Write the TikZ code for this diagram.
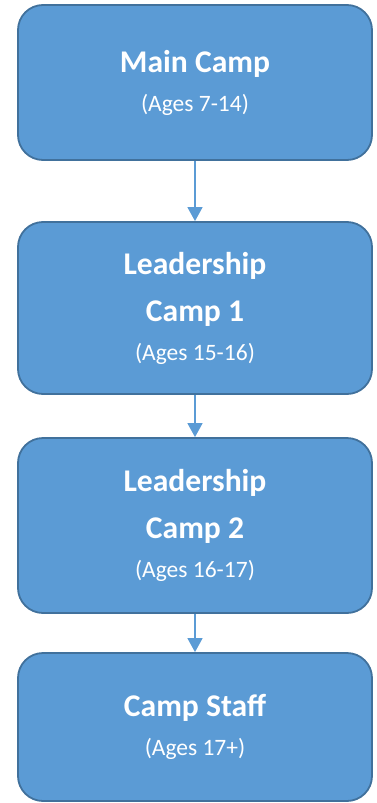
\documentclass[tikz,border=0pt]{standalone}
\usepackage{fontspec}
\setmainfont{Carlito}
\usepackage{tikz}
\usetikzlibrary{arrows.meta}

\definecolor{campfill}{HTML}{5B9BD5}
\definecolor{campline}{HTML}{41719C}

\begin{document}
\begin{tikzpicture}[x=1pt, y=1pt, node distance=217.5pt]
    \tikzstyle{camp} = [rectangle, rounded corners=25pt, minimum width=354pt, text centered, align=center, draw=campline, line width=1.8pt, fill=campfill, text=white, font=\fontsize{31.6pt}{47pt}\selectfont\bfseries]
    \tikzstyle{ages} = [font=\fontsize{23.5pt}{39pt}\selectfont\mdseries]
    \tikzstyle{arrow} = [draw=campfill, line width=1.5pt, -{Triangle[width=15pt, length=14pt]}]

    \useasboundingbox (0,0) rectangle (377,-803);

    \node (main) [camp, minimum height=155pt] at (195,-82.5) {Main Camp\\[-8pt]{\fontsize{23.5pt}{39pt}\selectfont\mdseries (Ages 7-14)}};
    \node (lead1) [camp, minimum height=172pt, below of=main, yshift=-8pt] {Leadership\\Camp 1\\[-8pt]{\fontsize{23.5pt}{39pt}\selectfont\mdseries (Ages 15-16)}};
    \node (lead2) [camp, minimum height=175pt, below of=lead1] {Leadership\\Camp 2\\[-8pt]{\fontsize{23.5pt}{39pt}\selectfont\mdseries (Ages 16-17)}};
    \node (staff) [camp, minimum height=148pt, below of=lead2, yshift=16pt] {Camp Staff\\[-8pt]{\fontsize{23.5pt}{39pt}\selectfont\mdseries (Ages 17+)}};

    \draw [arrow] (main) -- (lead1);
    \draw [arrow] (lead1) -- (lead2);
    \draw [arrow] (lead2) -- (staff);
\end{tikzpicture}
\end{document}
